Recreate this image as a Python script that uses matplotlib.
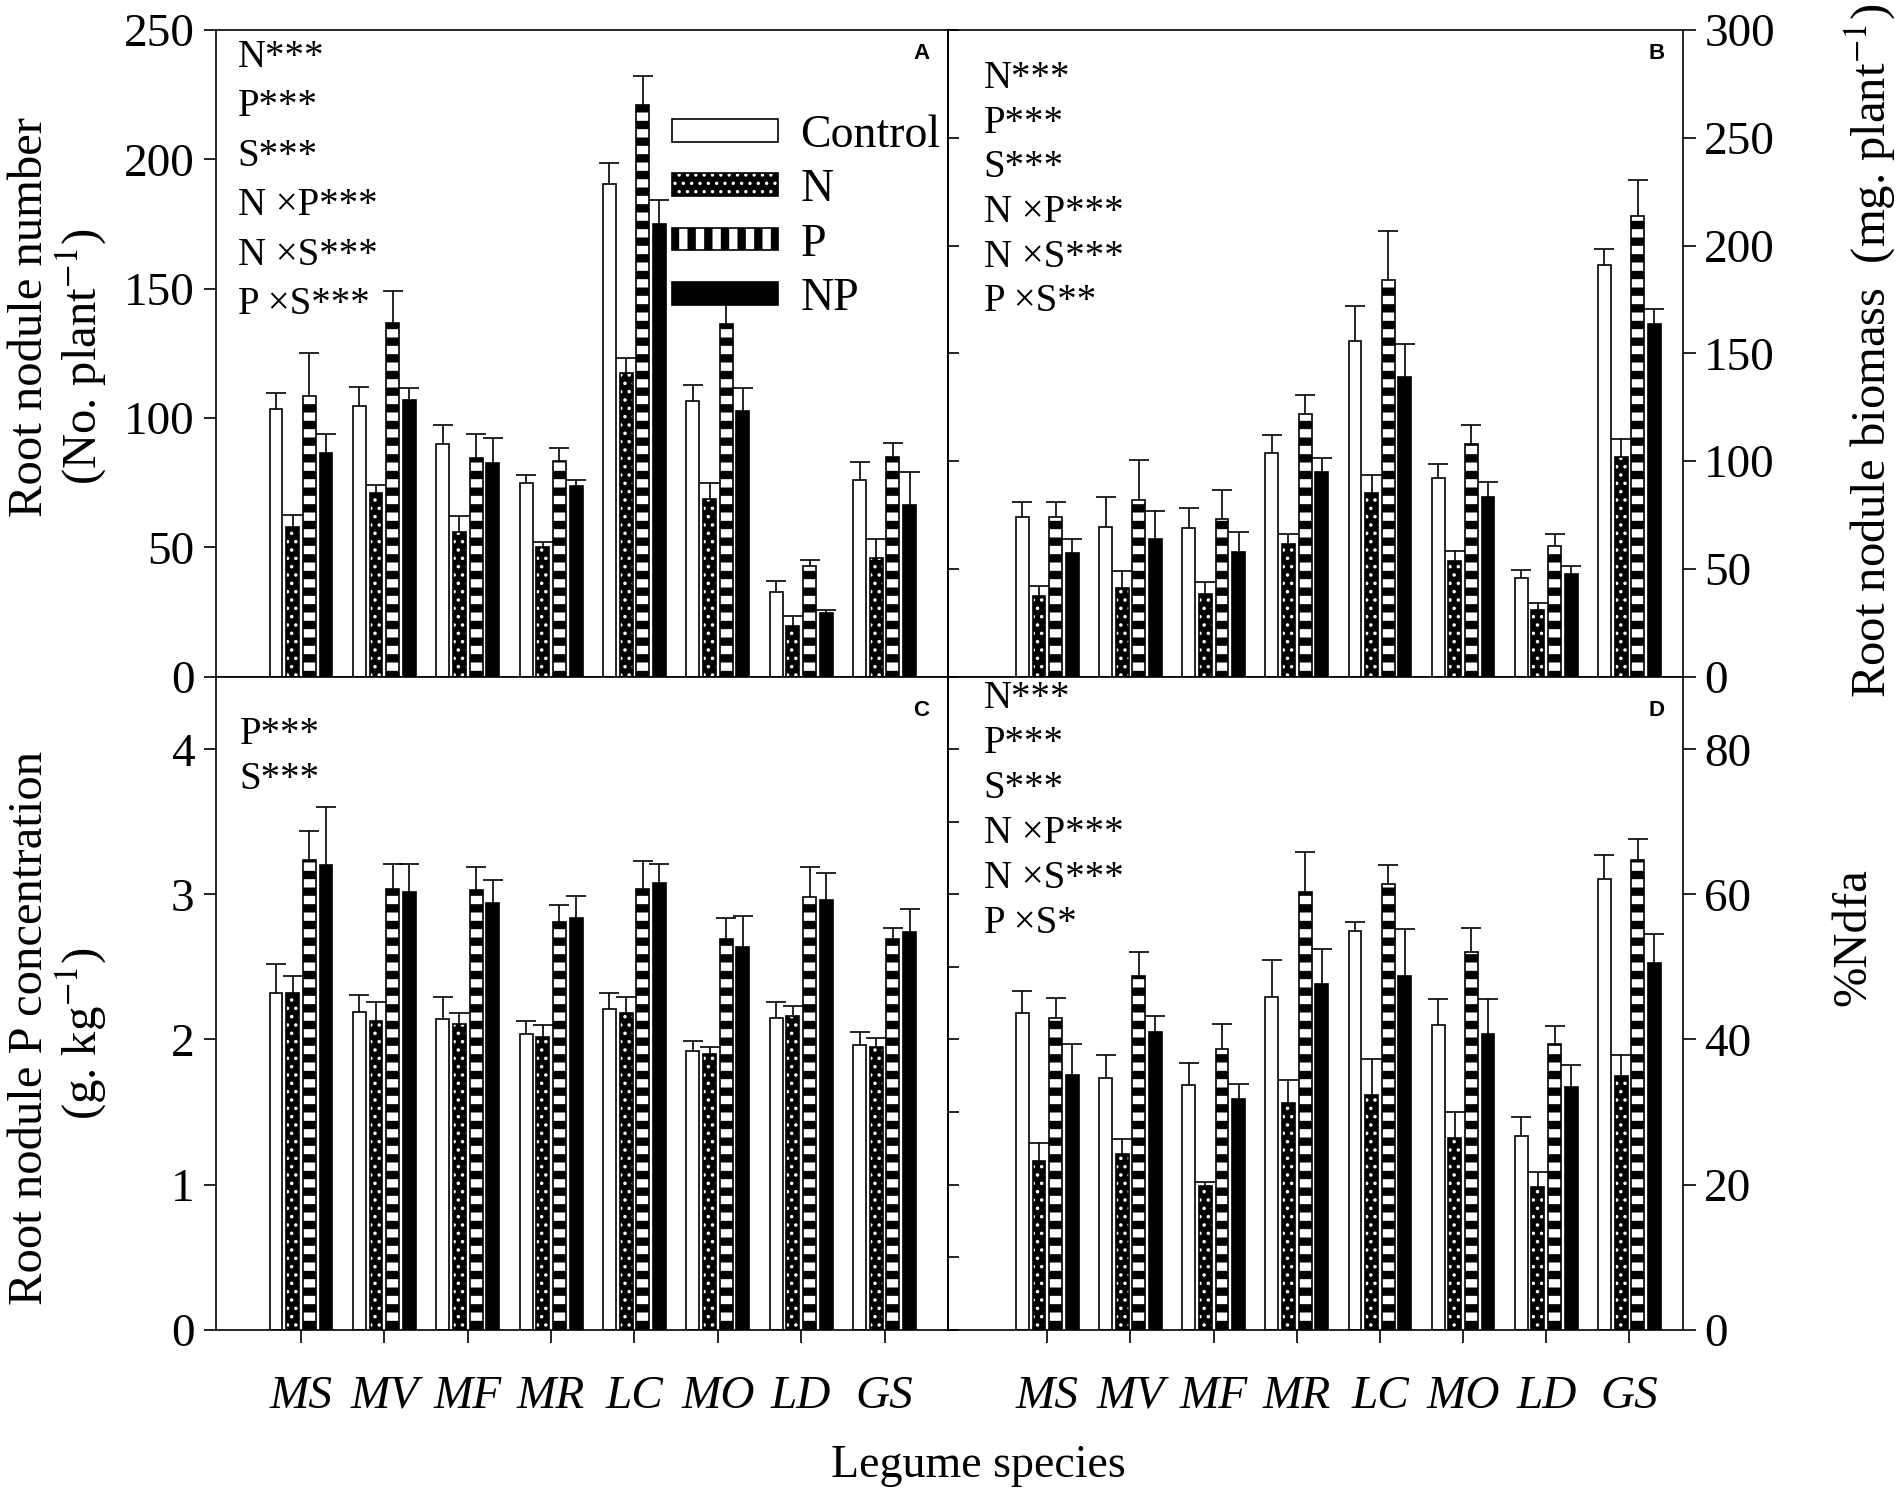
import numpy as np
import matplotlib
matplotlib.use('Agg')
import matplotlib.pyplot as plt
from matplotlib.patches import Patch

plt.rcParams.update({
    'font.family': 'Liberation Serif',
    'mathtext.fontset': 'stix',
    'axes.linewidth': 1.2,
    'hatch.linewidth': 1.2,
})

species = ['MS', 'MV', 'MF', 'MR', 'LC', 'MO', 'LD', 'GS']
treatments = ['Control', 'N', 'P', 'NP']

# rows: Control, N, P, NP (mean and SE)
nod_num = [[103.6, 104.8, 90.0, 75.0, 190.6, 106.5, 32.9, 76.2],
           [58.0, 70.9, 55.9, 50.0, 117.6, 68.7, 19.6, 46.0],
           [108.4, 136.9, 84.7, 83.5, 220.9, 136.5, 43.0, 84.9],
           [86.4, 107.0, 82.5, 73.8, 174.9, 102.6, 24.7, 66.6]]
nod_num_se = [[6.0, 7.2, 7.3, 3.2, 8.1, 6.5, 4.1, 6.8],
              [4.7, 3.1, 6.3, 2.0, 5.6, 6.3, 3.9, 7.3],
              [16.6, 12.1, 9.3, 5.0, 11.4, 8.2, 2.2, 5.6],
              [7.6, 4.6, 9.7, 2.4, 9.5, 9.0, 1.3, 12.7]]

nod_mass = [[74.0, 69.4, 68.8, 103.9, 155.7, 92.4, 45.9, 191.0],
            [37.3, 41.4, 38.2, 61.4, 85.3, 53.5, 30.8, 102.2],
            [74.0, 82.2, 73.3, 122.0, 184.3, 107.8, 60.8, 214.0],
            [57.3, 63.9, 57.8, 95.1, 139.2, 83.5, 47.6, 163.5]]
nod_mass_se = [[7.2, 13.9, 9.4, 8.5, 16.1, 6.2, 3.7, 7.6],
               [4.9, 7.6, 5.7, 4.9, 8.2, 4.7, 3.3, 8.2],
               [7.2, 18.4, 13.2, 8.8, 22.4, 9.1, 5.5, 16.6],
               [6.6, 13.2, 9.2, 6.3, 15.3, 6.9, 4.0, 7.3]]

nod_p = [[2.32, 2.19, 2.14, 2.04, 2.21, 1.92, 2.15, 1.96],
         [2.32, 2.13, 2.11, 2.02, 2.18, 1.90, 2.16, 1.95],
         [3.24, 3.04, 3.03, 2.81, 3.04, 2.69, 2.98, 2.69],
         [3.20, 3.02, 2.94, 2.84, 3.08, 2.64, 2.96, 2.74]]
nod_p_se = [[0.20, 0.12, 0.15, 0.09, 0.11, 0.07, 0.11, 0.09],
            [0.12, 0.13, 0.07, 0.08, 0.11, 0.05, 0.07, 0.06],
            [0.20, 0.17, 0.16, 0.12, 0.19, 0.15, 0.21, 0.08],
            [0.40, 0.19, 0.16, 0.15, 0.13, 0.21, 0.19, 0.16]]

ndfa = [[43.6, 34.7, 33.7, 45.9, 55.0, 42.0, 26.7, 62.1],
        [23.2, 24.2, 19.8, 31.2, 32.4, 26.4, 19.7, 35.0],
        [43.0, 48.8, 38.7, 60.3, 61.4, 52.1, 39.4, 64.7],
        [35.1, 41.0, 31.8, 47.7, 48.8, 40.8, 33.4, 50.6]]
ndfa_se = [[3.1, 3.1, 3.1, 5.0, 1.2, 3.6, 2.6, 3.3],
           [2.5, 2.1, 0.6, 3.2, 4.9, 3.6, 2.0, 2.8],
           [2.7, 3.2, 3.4, 5.6, 2.7, 3.3, 2.4, 2.9],
           [4.3, 2.3, 2.1, 4.8, 6.5, 4.8, 3.1, 3.9]]

sig_a = ['N***', 'P***', 'S***', 'N \u00d7P***', 'N \u00d7S***', 'P \u00d7S***']
sig_b = ['N***', 'P***', 'S***', 'N \u00d7P***', 'N \u00d7S***', 'P \u00d7S**']
sig_c = ['P***', 'S***']
sig_d = ['N***', 'P***', 'S***', 'N \u00d7P***', 'N \u00d7S***', 'P \u00d7S*']

lw = 1.2
width = 0.155
step = 0.2
idx = np.arange(len(species))


def patch_hlw(p, val):
    if hasattr(p, 'set_hatch_linewidth'):
        p.set_hatch_linewidth(val)


def draw_bars(ax, means, ses):
    for k in range(4):
        m = np.array(means[k])
        s = np.array(ses[k])
        x = idx + (k - 1.5) * step
        if k == 0:
            ax.bar(x, m, width, facecolor='white', edgecolor='k', linewidth=lw)
        elif k == 1:
            bars = ax.bar(x, m, width, facecolor='k', edgecolor='white', hatch='..', linewidth=0)
            for b in bars:
                patch_hlw(b, 1.3)
            ax.bar(x, m, width, fill=False, edgecolor='k', linewidth=lw)
        elif k == 2:
            with plt.rc_context({'hatch.linewidth': 6}):
                bars = ax.bar(x, m, width, facecolor='white', edgecolor='k', hatch='-', linewidth=lw)
            for b in bars:
                patch_hlw(b, 6)
        else:
            ax.bar(x, m, width, facecolor='k', edgecolor='k', linewidth=lw)
        ax.vlines(x, m, m + s, color='k', lw=lw)
        ax.plot(x, m + s, ls='none', marker='_', ms=14, mew=lw, color='k')


def annotate(ax, lines, x0, y0, dy):
    for i, t in enumerate(lines):
        ax.text(x0, y0 - i * dy, t, transform=ax.transAxes, fontsize=28,
                ha='left', va='center')


fig = plt.figure(figsize=(18.99, 14.94), dpi=100)
L, M, R = 0.1135, 0.4994, 0.8865
B0, Ym, T = 0.110, 0.547, 0.9798
axA = fig.add_axes([L, Ym, M - L, T - Ym])
axB = fig.add_axes([M, Ym, R - M, T - Ym])
axC = fig.add_axes([L, B0, M - L, Ym - B0])
axD = fig.add_axes([M, B0, R - M, Ym - B0])

draw_bars(axA, nod_num, nod_num_se)
draw_bars(axB, nod_mass, nod_mass_se)
draw_bars(axC, nod_p, nod_p_se)
draw_bars(axD, ndfa, ndfa_se)

for ax in (axA, axC):
    ax.set_xlim(-1.025, 7.765)
for ax in (axB, axD):
    ax.set_xlim(-1.19, 7.65)
    ax.yaxis.tick_right()
    sec = ax.secondary_yaxis('left')
    sec.tick_params(direction='in', length=8, width=lw, labelleft=False)

axA.set_ylim(0, 250)
axA.set_yticks(np.arange(0, 251, 50))
axB.set_ylim(0, 300)
axB.set_yticks(np.arange(0, 301, 50))
axC.set_ylim(0, 4.5)
axC.set_yticks(np.arange(0, 5, 1))
axD.set_ylim(0, 90)
axD.set_yticks(np.arange(0, 81, 20))

for ax in (axA, axB, axC, axD):
    ax.tick_params(axis='y', direction='out', length=9, width=lw, labelsize=34, pad=6)
for ax in (axA, axB):
    ax.set_xticks([])
for ax in (axC, axD):
    ax.set_xticks(idx)
    ax.set_xticklabels(species, fontstyle='italic')
    ax.tick_params(axis='x', direction='out', length=9, width=lw, labelsize=34, pad=24)

annotate(axA, sig_a, 0.03, 0.958, 0.0766)
annotate(axB, sig_b, 0.048, 0.925, 0.069)
annotate(axC, sig_c, 0.033, 0.911, 0.069)
annotate(axD, sig_d, 0.048, 0.967, 0.069)

for ax, letter, yl in ((axA, 'A', 0.964), (axB, 'B', 0.964), (axC, 'C', 0.948), (axD, 'D', 0.948)):
    ax.text(0.963, yl, letter, transform=ax.transAxes, fontsize=16, fontweight='bold',
            family='Liberation Sans', ha='center', va='center')

# legend (N handle = hatched black patch with an outline patch on top)
n_handle = (Patch(facecolor='k', edgecolor='white', hatch='..', linewidth=0),
            Patch(fill=False, edgecolor='k', linewidth=lw))
handles = [Patch(facecolor='white', edgecolor='k', linewidth=lw), n_handle,
           Patch(facecolor='white', edgecolor='k', hatch='|', linewidth=lw),
           Patch(facecolor='k', edgecolor='k', linewidth=lw)]
leg = axA.legend(handles, treatments,
                 loc='upper left', bbox_to_anchor=(0.623, 0.870), frameon=False,
                 fontsize=33, handlelength=2.3, handleheight=0.38, handletextpad=0.5,
                 labelspacing=0.26, borderpad=0, borderaxespad=0)
for h in leg.legend_handles:
    if h is not None and h.get_hatch() == '|':
        patch_hlw(h, 6)

fig.text(0.0159, 0.788, 'Root nodule number', rotation=90, fontsize=35, ha='center', va='center')
fig.text(0.0427, 0.761, '(No. plant$^{-1}$)', rotation=90, fontsize=35, ha='center', va='center')
fig.text(0.0159, 0.312, 'Root nodule P concentration', rotation=90, fontsize=35, ha='center', va='center')
fig.text(0.0427, 0.308, '(g. kg$^{-1}$)', rotation=90, fontsize=35, ha='center', va='center')
fig.text(0.985, 0.765, 'Root nodule biomass  (mg. plant$^{-1}$)', rotation=90, fontsize=35,
         ha='center', va='center')
fig.text(0.976, 0.373, '%Ndfa', rotation=90, fontsize=35, ha='center', va='center')
fig.text(0.515, 0.0186, 'Legume species', fontsize=33, ha='center', va='center')

fig.savefig('out.png', dpi=100)
